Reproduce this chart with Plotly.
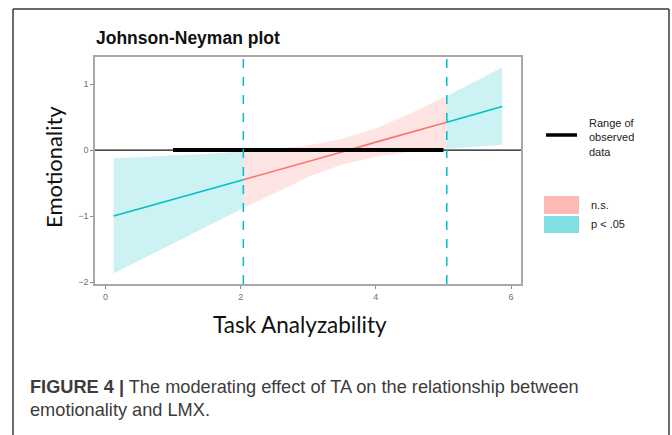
import plotly.graph_objects as go

# values
ta_x = [0.12, 0.5, 1.0, 1.5, 2.04, 2.5, 3.0, 3.5, 4.0, 4.5, 5.05, 5.5, 5.87]
slope_est = [-1.00, -0.89, -0.75, -0.61, -0.45, -0.32, -0.17, -0.03, 0.12, 0.26, 0.42, 0.55, 0.66]
ci_lower = [-1.87, -1.68, -1.42, -1.16, -0.88, -0.65, -0.41, -0.22, -0.10, -0.03, 0.02, 0.05, 0.08]
ci_upper = [-0.12, -0.11, -0.08, -0.06, -0.02, 0.02, 0.07, 0.17, 0.33, 0.55, 0.82, 1.06, 1.25]
jn_bounds = [2.04, 5.05]
observed_range = [1.0, 5.0]
x_ticks = [0, 2, 4, 6]
y_ticks = [-2, -1, 0, 1]

PINK = "#F8766D"
CYAN = "#00BFC4"
PINK_BAND = "rgba(248,118,109,0.2)"
CYAN_BAND = "rgba(0,191,196,0.2)"

# segments: (start index, end index, significant?)
segments = [(0, 4, True), (4, 10, False), (10, 12, True)]

# plot area in pixels (reference layout)
L, R, T, B = 95, 521, 57, 284
W, H = 672, 435


def px(p):
    return (p - L) / (R - L)


def py(p):
    return (B - p) / (B - T)


fig = go.Figure()

for i0, i1, sig in segments:
    xs = ta_x[i0:i1 + 1]
    up = ci_upper[i0:i1 + 1]
    lo = ci_lower[i0:i1 + 1]
    fig.add_trace(go.Scatter(
        x=xs + xs[::-1], y=up + lo[::-1],
        fill="toself", fillcolor=CYAN_BAND if sig else PINK_BAND,
        line=dict(width=0), mode="lines", hoverinfo="skip", showlegend=False,
    ))

for i0, i1, sig in segments:
    fig.add_trace(go.Scatter(
        x=ta_x[i0:i1 + 1], y=slope_est[i0:i1 + 1], mode="lines",
        line=dict(color=CYAN if sig else PINK, width=1.6), showlegend=False,
    ))

fig.add_hline(y=0, line=dict(color="#111111", width=1.2))
fig.add_shape(type="line", xref="x", yref="y",
              x0=observed_range[0], x1=observed_range[1], y0=0, y1=0,
              line=dict(color="black", width=4))
for b in jn_bounds:
    fig.add_vline(x=b, line=dict(color=CYAN, width=1.5, dash="dash"))

# outer figure frame
frame = dict(color="#3a3a3a", width=1.5)
fig.add_shape(type="line", xref="paper", yref="paper",
              x0=px(13), x1=px(13), y0=py(9), y1=py(445), line=frame)
fig.add_shape(type="line", xref="paper", yref="paper",
              x0=px(13), x1=px(669), y0=py(9), y1=py(9), line=frame)
fig.add_shape(type="line", xref="paper", yref="paper",
              x0=px(669), x1=px(669), y0=py(9), y1=py(445), line=frame)

# legend drawn by hand
fig.add_shape(type="line", xref="paper", yref="paper",
              x0=px(546), x1=px(577), y0=py(135), y1=py(135),
              line=dict(color="black", width=3.5))
fig.add_shape(type="rect", xref="paper", yref="paper",
              x0=px(544), x1=px(579), y0=py(196), y1=py(214),
              fillcolor="rgba(248,118,109,0.5)", line=dict(width=0))
fig.add_shape(type="rect", xref="paper", yref="paper",
              x0=px(544), x1=px(579), y0=py(216), y1=py(233),
              fillcolor="rgba(0,191,196,0.5)", line=dict(width=0))

leg_font = dict(family="Liberation Sans", size=11, color="#222222")
annotations = [
    dict(text="Range of<br>observed<br>data", x=px(587), y=py(137),
         xanchor="left", yanchor="middle", align="left", font=leg_font),
    dict(text="n.s.", x=px(589), y=py(205), xanchor="left", yanchor="middle", font=leg_font),
    dict(text="p < .05", x=px(589), y=py(224), xanchor="left", yanchor="middle", font=leg_font),
    dict(text="<b>Johnson-Neyman plot</b>", x=px(94), y=py(38),
         xanchor="left", yanchor="middle",
         font=dict(family="Liberation Sans", size=17.5, color="#111111")),
    dict(text="Emotionality", x=px(53), y=py(167), textangle=-90,
         xanchor="center", yanchor="middle",
         font=dict(family="Lato", size=22, color="#111111")),
    dict(text="Task Analyzability", x=px(300), y=py(324),
         xanchor="center", yanchor="middle",
         font=dict(family="Lato", size=22.5, color="#111111")),
    dict(text="<b>FIGURE 4 |</b> The moderating effect of TA on the relationship between",
         x=px(28), y=py(387), xanchor="left", yanchor="middle",
         font=dict(family="Liberation Sans", size=18.2, color="#3c3c3c")),
    dict(text="emotionality and LMX.",
         x=px(28), y=py(410), xanchor="left", yanchor="middle",
         font=dict(family="Liberation Sans", size=18.2, color="#3c3c3c")),
]
for a in annotations:
    a.update(xref="paper", yref="paper", showarrow=False)

axis_style = dict(
    showgrid=False, zeroline=False, showline=True, mirror=True,
    linecolor="#a8a8a8", linewidth=1.5,
    ticks="outside", ticklen=3, tickcolor="#888888", tickwidth=1,
    tickfont=dict(family="Liberation Sans", size=9, color="#707070"),
)

fig.update_layout(
    width=W, height=H,
    margin=dict(l=L, r=W - R, t=T, b=H - B),
    paper_bgcolor="white", plot_bgcolor="white",
    showlegend=False,
    xaxis=dict(range=[-0.155, 6.148], tickvals=x_ticks, **axis_style),
    yaxis=dict(range=[-2.03, 1.41], tickvals=y_ticks, **axis_style),
    annotations=annotations,
)

# drop the default 8px page margin so the figure fills the window exactly
fig.write_html("out.html", config={"displayModeBar": False},
               post_script="document.body.style.margin='0';")
